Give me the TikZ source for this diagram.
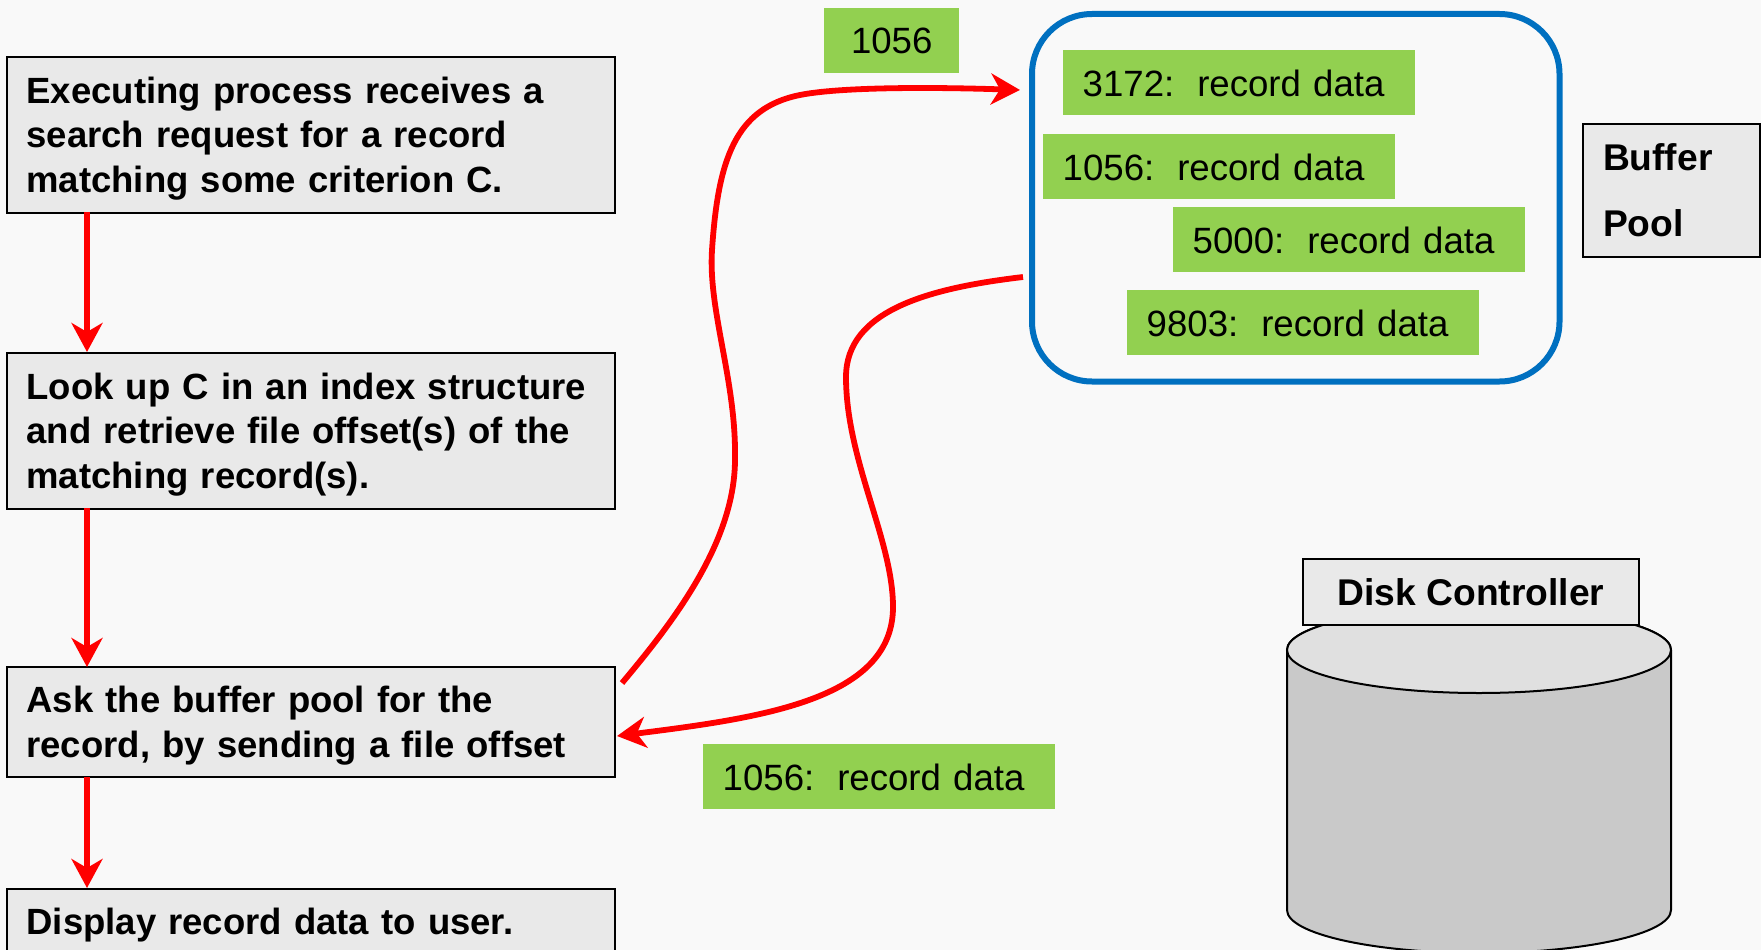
\documentclass[tikz,border=0pt]{standalone}
\usepackage{fontspec}
\setmainfont{Liberation Sans}
\usetikzlibrary{arrows.meta}
\definecolor{bgc}{HTML}{F9F9F9}
\definecolor{boxc}{HTML}{E9E9E9}
\definecolor{grn}{HTML}{92D050}
\definecolor{blu}{HTML}{0070C0}
\definecolor{cylside}{HTML}{C9C9C9}
\definecolor{cyltop}{HTML}{E0E0E0}
\newcommand{\firstup}{\rule{0pt}{34pt}}
\newcommand{\recup}{\rule{0pt}{27.5pt}}
\newcommand{\twosp}{\hspace{23pt}}
\tikzset{
  x=1pt,y=-1pt,
  stepbox/.style={draw=black,line width=2pt,fill=boxc,anchor=north west,minimum width=608pt,
    inner xsep=20pt,inner ysep=0pt,text width=568pt,align=left,
    font=\fontsize{36.5}{44.6}\selectfont\bfseries},
  rec/.style={fill=grn,anchor=north west,minimum width=352pt,minimum height=65pt,inner xsep=19.5pt,inner ysep=0pt,
    text width=313pt,align=left,font=\fontsize{36.6}{44}\selectfont},
  flow/.style={draw=red,line width=5.8pt,-{Stealth[length=29pt,width=31pt,inset=9pt]}}
}
\begin{document}
\begin{tikzpicture}
\useasboundingbox (0,0) rectangle (1761,950);
\clip (0,0) rectangle (1761,950);
\fill[bgc] (0,0) rectangle (1761,950);
% cylinder
\fill[cylside,draw=black,line width=2pt] (1287,650) -- (1287,910) arc[start angle=180,end angle=0,x radius=192,y radius=43] -- (1671,650) arc[start angle=0,end angle=-180,x radius=192,y radius=43] -- cycle;
\draw[fill=cyltop,line width=2pt] (1479,650) ellipse[x radius=192,y radius=43];
% step boxes
\node[stepbox,minimum height=155.5pt] (b1) at (5.5,56) {\firstup Executing process receives a\\search request for a record\\matching some criterion C.};
\node[stepbox,minimum height=156pt] (b2) at (5.5,351.5) {\firstup Look up C in an index structure\\and retrieve file offset(s) of the\\matching record(s).};
\node[stepbox,minimum height=110pt] (b3) at (5.5,666) {\firstup Ask the buffer pool for the\\record, by sending a file offset};
\node[stepbox,text depth=90pt,text height=45.5pt] (b4) at (5.5,887.5) {Display record data to user.};
% connectors between steps
\coordinate (a1s) at (87,212); \coordinate (a1e) at (87,352);
\coordinate (a2s) at (87,508); \coordinate (a2e) at (87,667);
\coordinate (a3s) at (87,777); \coordinate (a3e) at (87,888);
\draw[flow] (a1s) -- (a1e);
\draw[flow] (a2s) -- (a2e);
\draw[flow] (a3s) -- (a3e);
% buffer pool
\node[draw=blu,line width=6pt,rounded corners=60pt,anchor=north west,minimum width=527.5pt,minimum height=367.5pt,inner sep=0pt] (pool) at (1029,11) {};
\node[rec] (r1) at (1063,50) {\recup 3172:\twosp record data};
\node[rec] (r2) at (1043,134) {\recup 1056:\twosp record data};
\node[rec] (r3) at (1173,207) {\recup 5000:\twosp record data};
\node[rec] (r4) at (1127,290) {\recup 9803:\twosp record data};
\node[rec] (r5) at (703,744) {\recup 1056:\twosp record data};
\node[rec,minimum width=135pt,text width=135pt,align=center,inner xsep=0pt] (off) at (824,8) {1056};
\node[draw=black,line width=2pt,fill=boxc,anchor=north west,minimum width=177pt,minimum height=133pt,inner xsep=20pt,inner ysep=0pt,text width=137pt,align=left,font=\fontsize{37.2}{66}\selectfont\bfseries] (bp) at (1582,122.5) {Buffer\\Pool};
\node[draw=black,line width=2pt,fill=boxc,anchor=north west,minimum width=336pt,minimum height=66pt,inner sep=0pt,font=\fontsize{37.2}{44}\selectfont\bfseries] (dc) at (1302,558) {Disk Controller};
% curves
\coordinate (u0) at (622,683);
\coordinate (u1) at (735,457);
\coordinate (u2) at (712,250);
\coordinate (u3) at (800,95);
\coordinate (u4) at (1020,90);
\draw[flow] (u0) .. controls (675,620) and (736,540) .. (u1) .. controls (736,380) and (708,310) .. (u2) .. controls (718,160) and (735,108) .. (u3) .. controls (840,87) and (930,87) .. (u4);
\coordinate (l0) at (1023,277);
\coordinate (l1) at (846,377);
\coordinate (l2) at (893,607);
\coordinate (l3) at (617,736);
\draw[flow] (l0) .. controls (930,288) and (846,310) .. (l1) .. controls (846,460) and (893,540) .. (l2) .. controls (893,700) and (760,718) .. (l3);
\end{tikzpicture}
\end{document}
